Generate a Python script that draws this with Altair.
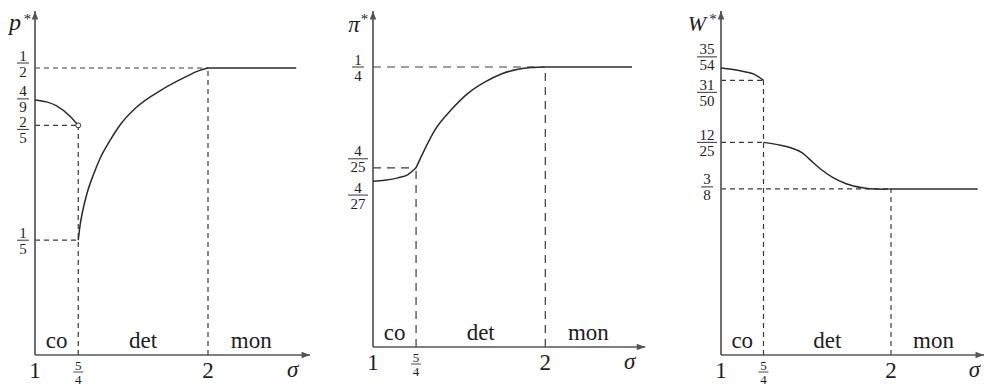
import altair as alt
import pandas as pd

# ---------------- data ----------------
region_names = ["co", "det", "mon"]
region_sigma = [1.125, 1.625, 2.25]
xtick_text = ["1", "2"]
xtick_sigma = [1.0, 2.0]
xfrac_num = ["5"]
xfrac_den = ["4"]
xfrac_sigma = [1.25]

# panel 1 : p*
p_co_sigma = [1.0, 1.067, 1.125, 1.202, 1.25]
p_co_value = [0.4444, 0.441, 0.434, 0.416, 0.4]
p_det_sigma = [1.25, 1.26, 1.275, 1.30, 1.34, 1.38, 1.434, 1.495, 1.588, 1.732, 1.867, 1.944, 2.0]
p_det_value = [0.2, 0.225, 0.25, 0.281, 0.316, 0.345, 0.374, 0.402, 0.432, 0.462, 0.484, 0.495, 0.5]
p_mon_sigma = [2.0, 2.51]
p_mon_value = [0.5, 0.5]
p_num = ["1", "4", "2", "1"]
p_den = ["2", "9", "5", "5"]
p_val = [1 / 2, 4 / 9, 2 / 5, 1 / 5]
p_guides = [(1, 0.5, 2, 0.5), (2, 0, 2, 0.5), (1, 0.4, 1.25, 0.4), (1.25, 0, 1.25, 0.4), (1, 0.2, 1.25, 0.2)]
p_open = [(1.25, 0.4)]

# panel 2 : pi*
pi_co_sigma = [1.0, 1.068, 1.145, 1.203, 1.25]
pi_co_value = [0.1481, 0.1489, 0.1510, 0.1540, 0.16]
pi_det_sigma = [1.25, 1.30, 1.358, 1.455, 1.551, 1.648, 1.745, 1.842, 1.92, 2.0]
pi_det_value = [0.16, 0.1765, 0.1935, 0.2120, 0.2265, 0.2365, 0.2438, 0.2480, 0.2495, 0.25]
pi_mon_sigma = [2.0, 2.503]
pi_mon_value = [0.25, 0.25]
pi_num = ["1", "4", "4"]
pi_den = ["4", "25", "27"]
pi_val = [1 / 4, 4 / 25, 4 / 27]
pi_guides = [(1, 0.25, 2, 0.25), (2, 0, 2, 0.25), (1, 0.16, 1.25, 0.16), (1.25, 0, 1.25, 0.16)]

# panel 3 : W*
w_co_sigma = [1.0, 1.062, 1.139, 1.197, 1.25]
w_co_value = [0.6481, 0.645, 0.6396, 0.6336, 0.62]
w_det_sigma = [1.25, 1.351, 1.409, 1.476, 1.543, 1.601, 1.659, 1.736, 1.832, 1.909, 1.96, 2.0]
w_det_value = [0.48, 0.4733, 0.468, 0.4567, 0.434, 0.4153, 0.4003, 0.3867, 0.3777, 0.3745, 0.3742, 0.375]
w_mon_sigma = [2.0, 2.51]
w_mon_value = [0.375, 0.375]
w_num = ["35", "31", "12", "3"]
w_den = ["54", "50", "25", "8"]
w_val = [35 / 54, 31 / 50, 12 / 25, 3 / 8]
w_guides = [(1, 0.62, 1.25, 0.62), (1.25, 0, 1.25, 0.62), (1, 0.48, 1.25, 0.48),
            (1, 0.375, 2, 0.375), (2, 0, 2, 0.375)]

# ---------------- layout / style ----------------
FONT = "Liberation Serif, DejaVu Serif, serif"
INK = "#1e1e1e"
LINE = "#2a2a2a"
GUIDE = "#3a3a3a"
AXIS = "#555555"
UP = "M0,0L-0.65,1.7L0.65,1.7Z"
RIGHT = "M0,0L-1.7,-0.65L-1.7,0.65Z"

p_shift = [-5, -1, 4, 0]
pi_shift = [0, -9, 14]
w_shift = [-11, 12, 0, -2]


def make_panel(segs, guides, num, den, val, shift, opens, cfg):
    w, h, ymax, ppu = cfg["w"], cfg["h"], cfg["ymax"], cfg["ppu"]
    xs = alt.Scale(domain=[1, 1 + w / ppu], nice=False, zero=False)
    ys = alt.Scale(domain=[0, ymax], nice=False, zero=False)

    def X(f):
        return alt.X(f, type="quantitative", scale=xs, axis=None)

    def Y(f):
        return alt.Y(f, type="quantitative", scale=ys, axis=None)

    one = pd.DataFrame({"k": [0]})
    layers = []

    # dashed guides
    gdf = pd.DataFrame(guides, columns=["x", "y", "x2", "y2"])
    layers.append(alt.Chart(gdf).mark_rule(color=GUIDE, strokeWidth=1.2, strokeDash=cfg["dash"]).encode(
        x=X("x"), x2="x2", y=Y("y"), y2="y2"))

    # axes
    xtip = cfg["xtip"]
    adf = pd.DataFrame({"x": [1, 1], "y": [0, 0], "x2": [1, xtip], "y2": [ymax, 0]})
    layers.append(alt.Chart(adf).mark_rule(color=AXIS, strokeWidth=1.7).encode(
        x=X("x"), x2="x2", y=Y("y"), y2="y2"))
    hdf = pd.DataFrame({"x": [1, xtip], "y": [ymax, 0], "shape": [UP, RIGHT]})
    layers.append(alt.Chart(hdf).mark_point(filled=True, size=100, color=AXIS, opacity=1).encode(
        x=X("x"), y=Y("y"), shape=alt.Shape("shape:N", scale=None)))

    # curves
    rows = []
    for name, xs_, vs_ in segs:
        for a, b in zip(xs_, vs_):
            rows.append({"seg": name, "sigma": a, "value": b})
    cdf = pd.DataFrame(rows)
    layers.append(alt.Chart(cdf).mark_line(interpolate="monotone", color=LINE, strokeWidth=1.5).encode(
        x=X("sigma"), y=Y("value"), detail="seg:N"))

    if opens:
        odf = pd.DataFrame(opens, columns=["sigma", "value"])
        layers.append(alt.Chart(odf).mark_point(shape="circle", size=24, fill="white", stroke=LINE,
                                                strokeWidth=1, opacity=1, fillOpacity=1).encode(
            x=X("sigma"), y=Y("value")))

    # y fraction labels
    cx = cfg["label_cx"]
    fr = []
    for n, d, v, s in zip(num, den, val, shift):
        bw = 8 * max(len(n), len(d)) + 4
        fr.append({"num": n, "den": d, "anchor": v - s * ymax / h,
                   "bx": 1 - (cx + bw / 2) / ppu, "bx2": 1 - (cx - bw / 2) / ppu})
    fdf = pd.DataFrame(fr)
    txt = dict(font=FONT, fontSize=15, color=INK, align="center", baseline="middle")
    layers.append(alt.Chart(fdf).mark_text(dy=-7.5, **txt).encode(
        x=alt.value(-cx), y=Y("anchor"), text="num:N"))
    layers.append(alt.Chart(fdf).mark_text(dy=8.5, **txt).encode(
        x=alt.value(-cx), y=Y("anchor"), text="den:N"))
    layers.append(alt.Chart(fdf).mark_rule(color=INK, strokeWidth=0.9).encode(
        x=X("bx"), x2="bx2", y=Y("anchor")))

    # x labels
    big = dict(font=FONT, fontSize=23, color=INK, align="center", baseline="middle")
    xdf = pd.DataFrame({"t": xtick_text, "sigma": xtick_sigma})
    layers.append(alt.Chart(xdf).mark_text(dy=16, **big).encode(
        x=X("sigma"), y=alt.value(h), text="t:N"))
    xf = pd.DataFrame({"num": xfrac_num, "den": xfrac_den, "sigma": xfrac_sigma,
                       "bx": [s - 5 / ppu for s in xfrac_sigma], "bx2": [s + 5 / ppu for s in xfrac_sigma]})
    small = dict(font=FONT, fontSize=13, color=INK, align="center", baseline="middle")
    layers.append(alt.Chart(xf).mark_text(dy=10.5, **small).encode(
        x=X("sigma"), y=alt.value(h), text="num:N"))
    layers.append(alt.Chart(xf).mark_text(dy=24.5, **small).encode(
        x=X("sigma"), y=alt.value(h), text="den:N"))
    layers.append(alt.Chart(xf).mark_rule(color=INK, strokeWidth=0.8).encode(
        x=X("bx"), x2="bx2", y=alt.value(h + 17)))
    sdf = pd.DataFrame({"t": ["σ"], "sigma": [2.49]})
    layers.append(alt.Chart(sdf).mark_text(dy=15, fontStyle="italic", **big).encode(
        x=X("sigma"), y=alt.value(h), text="t:N"))

    # region labels
    rdf = pd.DataFrame({"name": region_names, "sigma": region_sigma})
    layers.append(alt.Chart(rdf).mark_text(dy=-14, **big).encode(
        x=X("sigma"), y=alt.value(h), text="name:N"))

    # axis title
    layers.append(alt.Chart(one).mark_text(font=FONT, fontSize=cfg["tsize"], fontStyle="italic", color=INK,
                                           align="center", baseline="alphabetic").encode(
        x=alt.value(cfg["tdx"]), y=alt.value(cfg["tdy"]), text=alt.value(cfg["title"])))
    layers.append(alt.Chart(one).mark_text(font=FONT, fontSize=15, color=INK,
                                           align="center", baseline="middle").encode(
        x=alt.value(cfg["sdx"]), y=alt.value(8), text=alt.value("*")))

    return alt.layer(*layers).properties(width=w, height=h)


c1 = make_panel([("co", p_co_sigma, p_co_value), ("det", p_det_sigma, p_det_value), ("mon", p_mon_sigma, p_mon_value)],
                p_guides, p_num, p_den, p_val, p_shift, p_open,
                dict(w=338, h=344, ymax=344 / 574, ppu=173, xtip=2.59, dash=[5, 4], label_cx=12,
                     title="p", tsize=24, tdx=-20, tdy=19, sdx=-7.5))
c2 = make_panel([("co", pi_co_sigma, pi_co_value), ("det", pi_det_sigma, pi_det_value), ("mon", pi_mon_sigma, pi_mon_value)],
                pi_guides, pi_num, pi_den, pi_val, pi_shift, None,
                dict(w=348, h=336, ymax=336 / 1120, ppu=172.3, xtip=2.58, dash=[8, 6], label_cx=15,
                     title="π", tsize=23, tdx=-19, tdy=21, sdx=-8.5))
c3 = make_panel([("co", w_co_sigma, w_co_value), ("det", w_det_sigma, w_det_value), ("mon", w_mon_sigma, w_mon_value)],
                w_guides, w_num, w_den, w_val, w_shift, None,
                dict(w=263, h=344, ymax=344 / 443, ppu=170, xtip=2.547, dash=[5, 4], label_cx=14,
                     title="W", tsize=22, tdx=-24, tdy=20, sdx=-8))

chart = alt.hconcat(c1, c2, c3, spacing=0, bounds="flush").properties(
    padding={"left": 1, "top": 2, "right": 0, "bottom": 0}
).configure_view(stroke=None)

chart.save("out.html", embed_options={"renderer": "svg", "actions": False})
